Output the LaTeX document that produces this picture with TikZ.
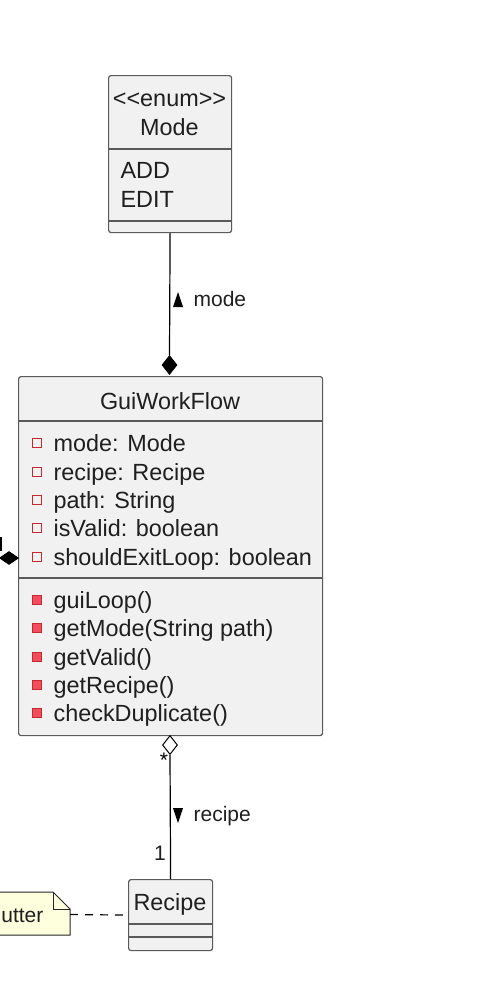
\documentclass[tikz,border=0pt]{standalone}
\usepackage{fontspec}
\setmainfont{Liberation Sans}
\usetikzlibrary{shapes.geometric}
\definecolor{boxfill}{HTML}{F1F1F1}
\definecolor{boxline}{HTML}{5A5A5A}
\definecolor{privred}{HTML}{C82930}
\definecolor{privfill}{HTML}{F24D5C}
\definecolor{notefill}{HTML}{FEFFDD}

\begin{document}
\begin{tikzpicture}[x=1pt, y=-1pt, line width=1.2pt,
  class box/.style={draw=boxline, fill=boxfill, rounded corners=2.5pt, inner sep=0pt, anchor=north west},
  sep line/.style={draw=boxline},
  member/.style={anchor=base west, inner sep=0pt, text=black!88, font=\fontsize{23.4}{28}\selectfont},
  title/.style={anchor=base, inner sep=0pt, text=black!88, font=\fontsize{23.4}{28}\selectfont},
  edge label/.style={anchor=west, inner sep=0pt, text=black!88, font=\fontsize{21}{25}\selectfont},
  attr icon/.style={draw=privred, line width=1pt},
  meth icon/.style={draw=privred, fill=privfill, line width=1pt},
  solid dia/.style={diamond, draw=black, fill=black, inner sep=0pt, line width=0.8pt},
  open dia/.style={diamond, draw=black, fill=white, inner sep=0pt, line width=1pt},
  note box/.style={draw=black!85, fill=notefill, line width=1pt}]

  \useasboundingbox (0,0) rectangle (488,990);
  \clip (0,0) rectangle (488,990);

  % enum Mode
  \node[class box, minimum width=123pt, minimum height=157pt] (mode) at (108,75) {};
  \draw[sep line] (108,149) -- (231,149);
  \draw[sep line] (108,221) -- (231,221);
  \node[title] (modestereo) at (169.5,106) {<{}<enum>{}>};
  \node[title] (modename) at (169.5,135) {Mode};
  \node[member] (modeadd) at (120,178) {ADD};
  \node[member] (modeedit) at (120,207) {EDIT};

  % class GuiWorkFlow
  \node[class box, minimum width=304pt, minimum height=359pt] (gui) at (18,376) {};
  \draw[sep line] (18,421) -- (322,421);
  \draw[sep line] (18,578) -- (322,578);
  \node[title] (guiname) at (170,409) {GuiWorkFlow};
  \foreach \yy/\txt in {443/{mode: Mode}, 472/{recipe: Recipe}, 500/{path: String},
      528/{isValid: boolean}, 557/{shouldExitLoop: boolean}} {
    \draw[attr icon] (32,\yy-4.5) rectangle ++(9,9);
    \node[member] (a\yy) at (53,\yy+8.5) {\txt};
  }
  \foreach \yy/\txt in {600/{guiLoop()}, 628/{getMode(String path)}, 657/{getValid()},
      685/{getRecipe()}, 713/{checkDuplicate()}} {
    \draw[meth icon] (32,\yy-4.5) rectangle ++(9,9);
    \node[member] (m\yy) at (53,\yy+8.5) {\txt};
  }

  % class Recipe
  \node[class box, minimum width=84pt, minimum height=71pt] (recipe) at (128,879) {};
  \draw[sep line] (128,924) -- (212,924);
  \draw[sep line] (128,937) -- (212,937);
  \node[title] (recipename) at (170,910) {Recipe};

  % note (cut off on the left)
  \draw[note box] (-60,892) -- (53,892) -- (70,909) -- (70,935) -- (-60,935) -- cycle;
  \draw[note box, fill=none] (53,892) -- (53,909) -- (70,909);
  \node[anchor=base east, inner sep=0pt, text=black!88, font=\fontsize{21}{25}\selectfont] (notetext) at (44,922) {utter};
  \coordinate (noteend) at (70,914.5);

  % links
  \node[solid dia, minimum width=15pt, minimum height=19pt] (modedia) at (169.5,365) {};
  \draw (mode.south) -- (modedia.north);
  \fill (173,307) -- (178,292) -- (183,307) -- cycle;
  \node[edge label] (modelab) at (193,299) {mode};

  \node[open dia, minimum width=15pt, minimum height=19pt] (guidia) at (170,745) {};
  \draw (guidia.south) -- (recipe.north);
  \fill (173,808) -- (178,823) -- (183,808) -- cycle;
  \node[edge label] (recipelab) at (193,816) {recipe};
  \node[anchor=base, inner sep=0pt, font=\fontsize{21}{25}\selectfont] (multstar) at (164,767) {*};
  \node[anchor=base, inner sep=0pt, text=black!88, font=\fontsize{21}{25}\selectfont] (multone) at (160,860) {1};

  \draw[dash pattern=on 8pt off 7pt] (noteend) -- (recipe.west);

  \coordinate (leftend) at (1,537);
  \node[solid dia, minimum width=19pt, minimum height=13pt] (leftdia) at (9,558) {};
  \draw (leftend) -- (leftend |- leftdia.north);

\end{tikzpicture}
\end{document}
